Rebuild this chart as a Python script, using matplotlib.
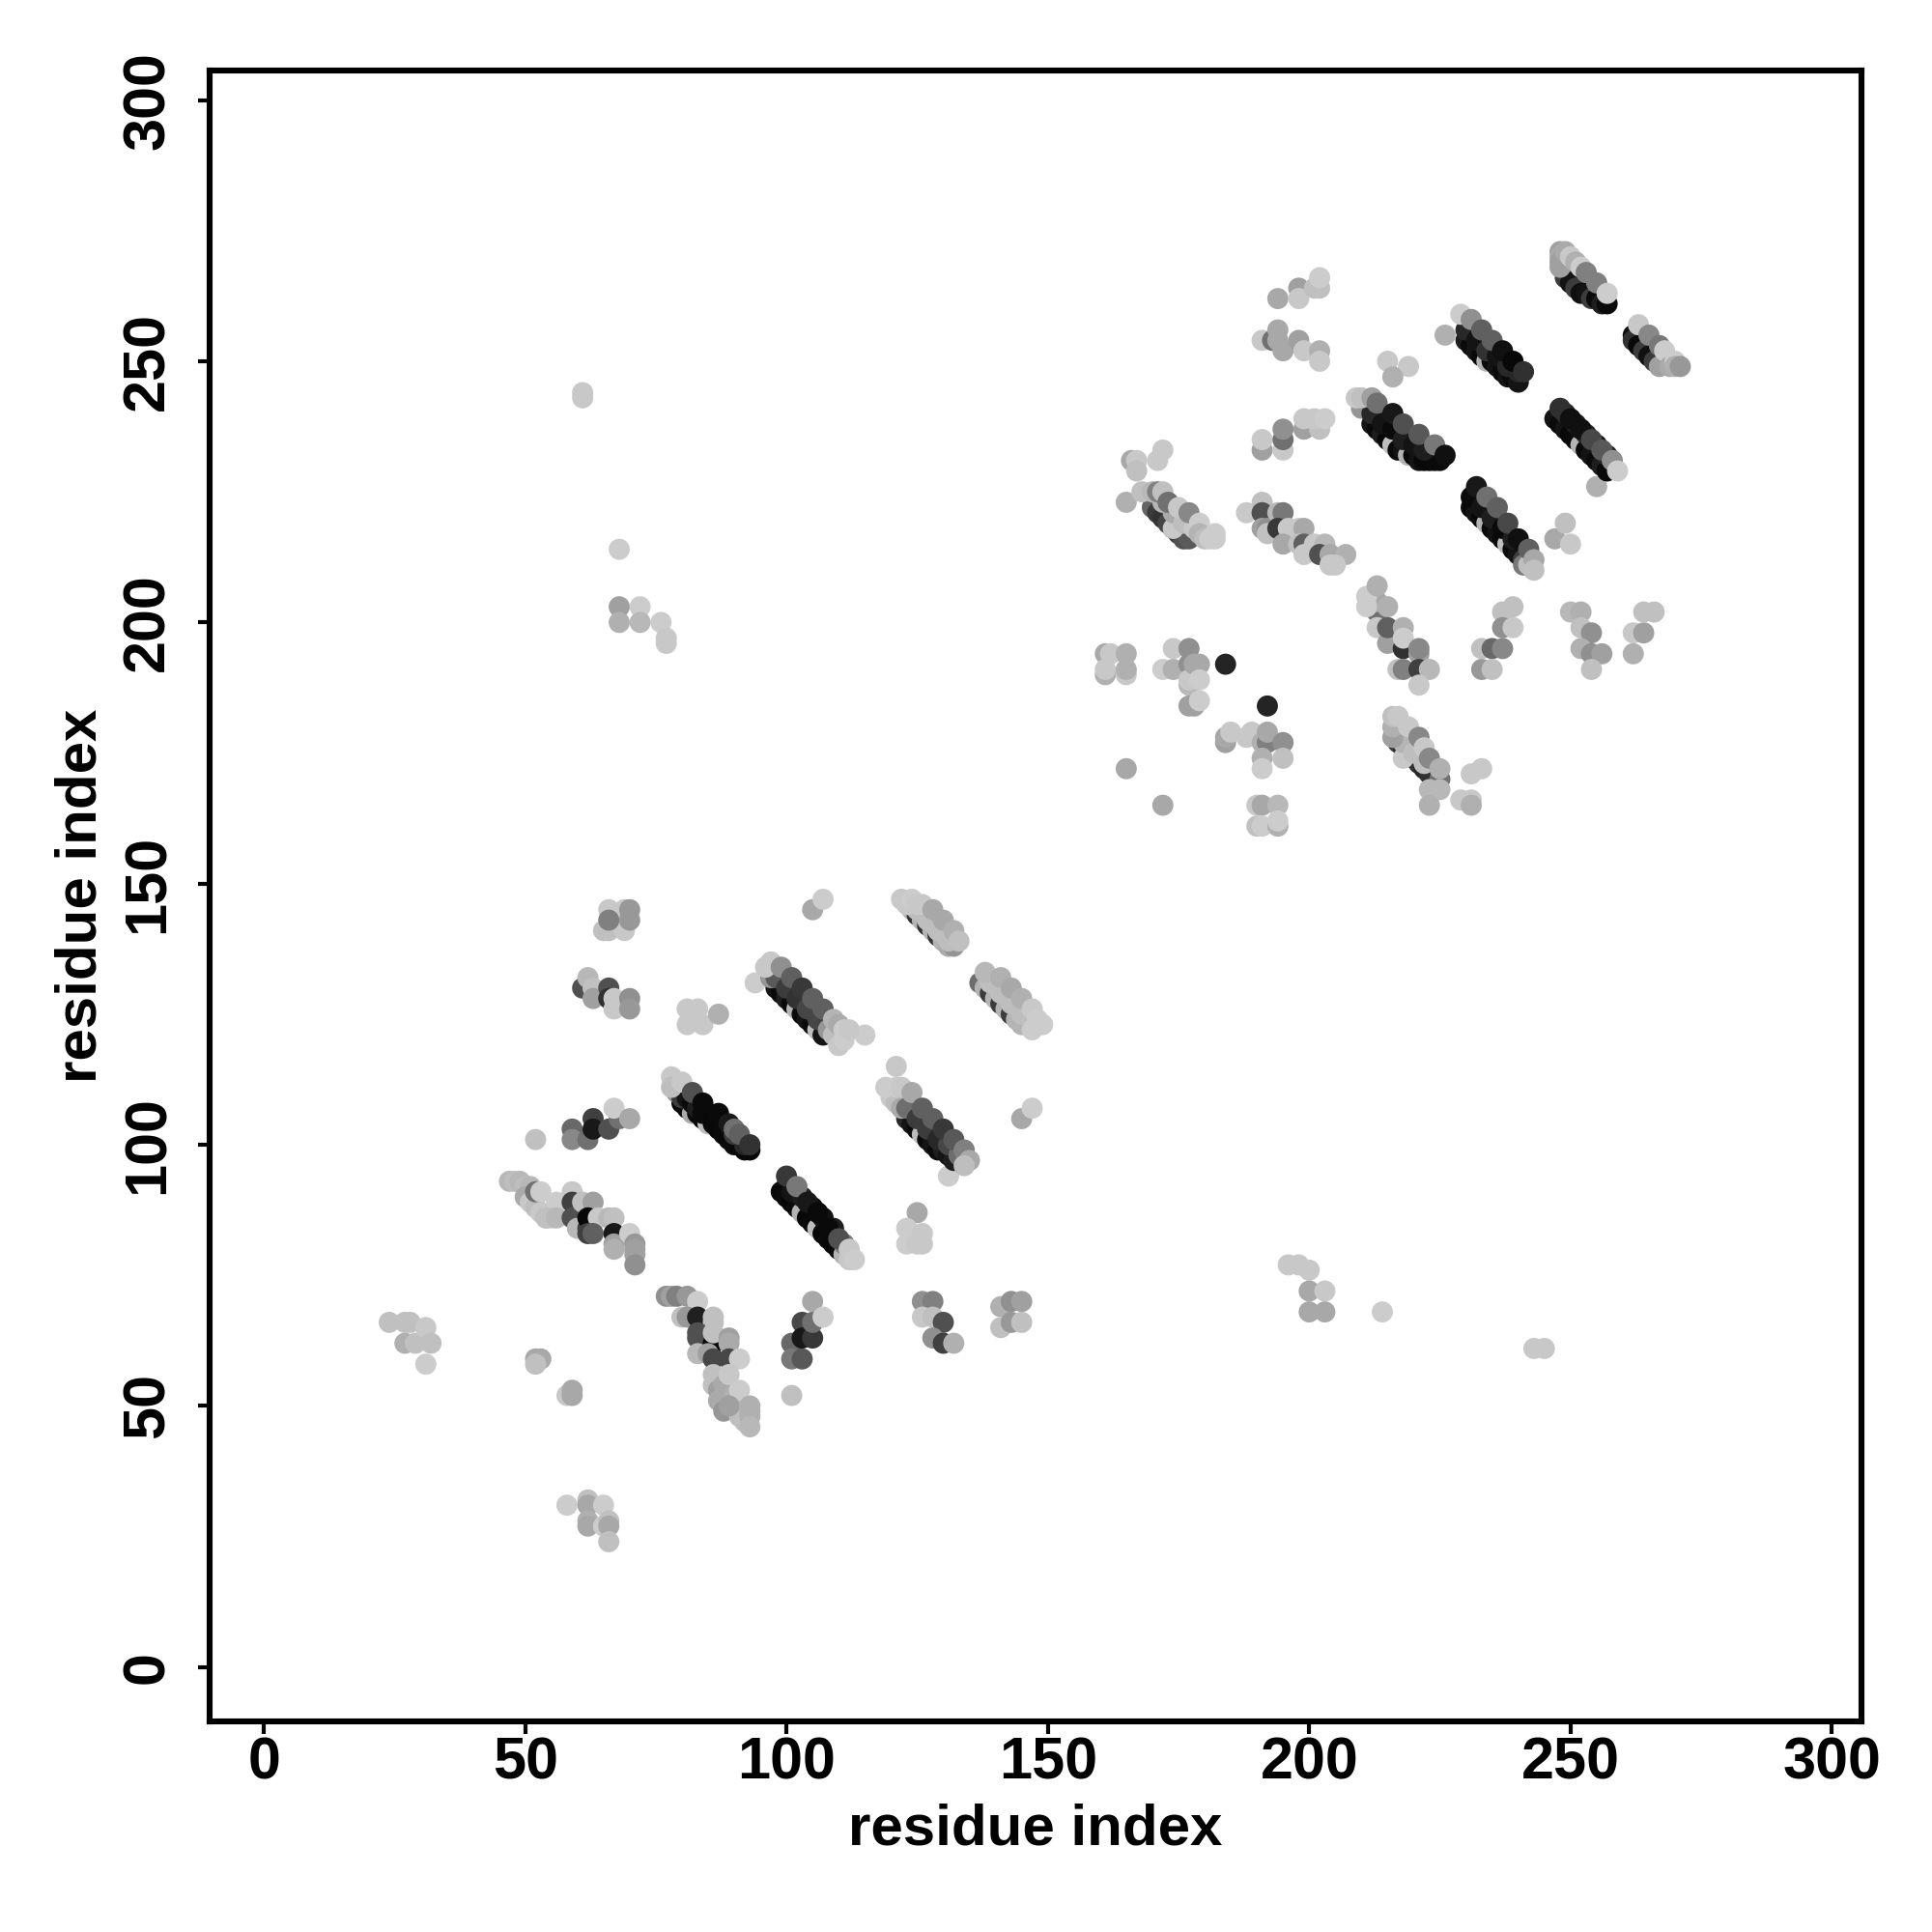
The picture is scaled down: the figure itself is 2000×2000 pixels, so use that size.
import matplotlib
matplotlib.use('Agg')
import matplotlib.pyplot as plt

plt.rcParams['font.family'] = ['Liberation Sans', 'DejaVu Sans']
plt.rcParams['font.weight'] = 'bold'

# every contact is (residue x, residue y, grey level 0-255), drawn in list order
strip_a = [(80,108,8),(81,107,10),(82,106,170),(83,106,10),(84,105,8),(85,104,190),(86,104,10),(87,103,8),(88,102,10),(89,101,8),(90,100,10),(91,100,8),(92,99,10),(93,99,8),
           (79,110,150),(80,109,60),(81,109,20),(82,108,10),(83,107,30),(84,106,10),(85,106,10),(86,105,8),(88,104,10),(90,102,60),(92,100,40),
           (78,113,200),(78,111,190),(80,112,200),(82,110,80),(84,108,10),(87,106,10),(89,104,26),(90,103,112),(91,102,96),(93,100,50)]
strip_b = [(99,91,8),(100,90,10),(101,89,8),(102,88,10),(103,87,180),(104,86,8),(105,85,10),(106,84,190),(107,83,8),(108,82,10),(109,81,8),(110,80,10),(111,79,180),
           (100,92,10),(101,91,20),(103,90,30),(105,88,10),(107,86,20),(109,84,30),(111,81,120),(112,78,200),
           (100,94,56),(102,92,120),(104,89,24),(106,87,10),(108,84,10),(110,82,80),(112,80,200),(113,78,204)]
strip_c = [(98,130,20),(99,129,10),(100,128,30),(101,127,10),(102,126,180),(103,125,10),(104,124,20),(105,123,10),(106,122,190),(107,121,20),
           (97,132,150),(98,132,90),(100,130,60),(102,128,50),(104,126,70),(106,124,70),(108,122,150),(109,121,190),(110,119,200),
           (96,134,200),(97,135,200),(99,134,144),(101,132,96),(103,130,56),(105,128,96),(107,126,96),(109,124,180),(110,123,170),(111,122,204),(111,120,204),(112,122,200)]
strip_d = [(123,105,40),(124,104,20),(125,103,10),(126,102,190),(127,101,10),(128,100,20),(129,99,10),(130,99,30),(131,98,20),(132,97,30),
           (120,109,200),(121,108,190),(122,107,170),(123,107,110),(125,105,60),(127,103,60),(129,101,40),(131,100,70),(133,98,110),
           (119,111,204),(121,111,204),(122,111,200),(124,110,168),(126,107,96),(128,105,96),(130,103,56),(132,101,88),(134,99,128),(135,97,168),(134,96,190)]
strip_e = [(124,145,180),(125,144,50),(126,143,180),(127,142,50),(128,141,180),(129,140,50),(130,139,180),(131,138,170),(132,138,150),
           (125,145,190),(127,143,190),(129,141,190),(131,139,190),
           (122,147,200),(123,146,200),(124,147,204),(125,146,200),(126,146,200),(128,145,168),(130,143,168),(132,141,176),(133,139,192)]
strip_f = [(137,131,110),(138,130,180),(139,129,60),(140,128,180),(141,127,60),(142,126,180),(143,125,60),(144,124,180),(145,123,180),
           (139,131,190),(141,129,190),(143,127,190),(145,125,190),
           (138,133,184),(141,132,176),(143,130,168),(145,128,176),(147,126,200),(148,124,204),(147,122,204),(149,123,204)]
strip_g = [(47,93,184),(48,93,190),(49,93,184),(50,92,190),(51,92,184),(50,90,170),(51,89,200),(52,88,190),(53,87,200),(54,86,190),(55,86,200),(52,91,112),(53,91,204),
           (56,89,204),(54,86,192),(56,86,184),(59,91,200),(59,89,64),(59,86,80),(60,86,80),(60,84,184),(61,89,192),(62,84,64),(63,89,160),(62,86,8),(64,86,200),
           (62,83,64),(63,83,96),(66,86,184),(67,86,192),(67,83,24),(67,81,160),(67,80,176),(70,83,204),(71,81,152),(71,80,160),(71,79,160),(71,77,144)]
strip_h = [(77,71,144),(78,71,160),(79,71,128),(81,71,152),(83,70,204),(80,67,192),(81,67,152),(83,67,32),(86,67,192),(86,66,192),
           (83,64,80),(83,63,80),(86,62,8),(86,64,192),(89,63,160),(89,62,170),(83,60,184),(85,60,160),(86,59,72),(89,59,72),(91,59,204),
           (86,56,192),(86,54,192),(87,53,160),(87,51,170),(88,49,150),(88,54,170),(89,53,170),(90,52,176),(90,50,170),(91,51,190),(92,49,180),(91,48,190),
           (89,56,200),(91,53,204),(89,50,160),(92,47,192),(93,50,176),(93,49,176),(93,48,176),(93,46,184)]
clump_left = [(24,66,192),(27,66,192),(28,66,192),(27,62,176),(29,62,192),(31,65,200),(32,62,192),(31,58,204),
              (52,59,168),(53,59,168),(52,58,192),(58,52,200),(59,53,168),(59,52,168),
              (58,31,204),(62,32,192),(62,31,168),(62,28,176),(62,27,168),(65,31,204),(65,27,204),(66,28,192),(66,27,168),(66,24,192),
              (61,244,200),(61,243,200),(68,214,204),(68,203,160),(72,203,204),(68,200,176),(72,200,184),(76,200,204),(77,197,200),(77,196,200)]
clump_mid = [(65,141,192),(66,141,192),(69,141,200),(66,145,200),(69,145,200),(66,143,128),(70,145,152),(70,143,152),
             (61,130,80),(62,132,184),(63,130,192),(63,128,160),(66,130,80),(66,128,48),(67,128,200),(67,126,200),(70,128,144),(70,126,152),
             (81,126,200),(83,126,200),(81,123,200),(84,123,200),(87,125,176),(94,131,204),
             (52,101,192),(59,103,104),(59,101,136),(62,101,112),(63,105,64),(63,103,24),(66,103,80),(68,105,112),(67,107,204),(70,105,168),
             (101,62,104),(101,59,120),(103,59,88),(103,66,72),(103,63,24),(105,63,56),(105,66,112),(105,70,168),(107,67,204),(101,52,192),
             (105,145,168),(107,147,204),(115,121,204),(121,115,200),(131,94,204),(145,105,168),(147,107,204)]
clump_low = [(125,87,168),(123,84,204),(126,83,200),(123,81,204),(125,81,200),(126,81,200),
             (126,70,144),(128,70,128),(126,67,200),(128,67,192),(130,66,80),(128,63,144),(130,62,64),(132,62,176),
             (141,69,176),(141,65,192),(143,70,144),(145,70,160),(143,66,152),(145,66,192),
             (196,77,200),(198,77,200),(200,76,200),(200,72,168),(203,72,200),(200,68,168),(203,68,168),(214,68,204),(243,61,200),(245,61,200)]
clump_top = [(194,262,168),(198,264,160),(198,262,200),(201,264,192),(202,264,192),(202,266,204),
             (191,254,200),(193,254,112),(194,256,168),(194,254,168),(195,252,168),(198,254,160),(199,252,200),(202,252,176),(202,250,200),
             (191,233,160),(191,235,200),(195,233,200),(195,235,112),(195,237,144),(199,237,160),(199,239,200),(202,237,192),(201,239,200),(203,239,204),
             (166,231,168),(167,231,200),(167,229,192),(171,231,200),(172,233,200),
             (215,250,200),(219,249,200),(216,247,176),(226,255,176),(247,216,168),(249,219,192),(250,215,200),(255,226,176)]
strip_i = [(170,222,100),(171,221,60),(172,220,50),(173,219,70),(174,218,50),(175,217,60),(176,216,80),(177,216,90),(174,218,200),
           (172,223,180),(174,221,170),(176,219,190),(178,218,200),
           (165,223,176),(168,225,192),(170,225,184),(171,225,128),(172,225,192),(173,223,112),(175,222,200),(177,221,136),(179,219,204),(179,217,180),(180,216,190),(181,216,204),(182,217,204),(182,216,204)]
clump_j = [(188,221,200),(191,223,192),(191,221,80),(191,218,160),(192,218,144),(192,217,192),(194,221,184),(195,221,120),(194,218,56),(196,218,200),
           (195,215,168),(198,218,200),(199,218,168),(198,215,192),(199,215,96),(199,213,200),(201,215,200),(203,215,184),(202,213,80),(204,213,168),(207,213,176),(204,211,200),(205,211,200)]
strip_k = [(212,238,20),(213,237,10),(214,236,30),(215,235,8),(216,234,190),(217,233,10),(218,233,20),(219,232,180),(220,232,10),(221,231,20),(222,231,10),(223,231,8),(224,231,10),(225,231,10),
           (210,241,150),(212,240,40),(214,238,20),(216,237,10),(218,235,30),(220,234,20),(222,233,30),
           (209,243,200),(210,243,192),(212,243,160),(213,242,112),(216,240,24),(218,238,80),(221,236,88),(224,234,120),(226,232,16)]
strip_l = [(230,254,30),(231,253,10),(232,252,20),(233,251,8),(234,250,180),(235,250,10),(236,249,20),(237,248,10),(238,247,20),(239,247,8),(240,246,20),
           (230,256,40),(232,254,20),(234,252,50),(236,251,20),(238,249,40),(240,248,40),
           (229,259,204),(231,258,144),(233,256,96),(235,254,96),(237,252,16),(239,250,8),(241,248,48)]
strip_m = [(231,222,10),(232,221,20),(233,220,8),(234,219,180),(235,218,10),(236,217,20),(237,216,10),(238,215,190),(239,214,10),(240,213,20),(241,212,60),
           (231,224,10),(233,222,20),(235,220,30),(237,218,10),(239,216,30),(241,211,120),(242,211,190),
           (232,226,24),(234,224,112),(236,222,96),(238,219,72),(240,216,16),(242,214,96),(243,212,168),(243,210,192)]
strip_n = [(247,239,20),(248,238,10),(249,237,20),(250,236,8),(251,235,10),(252,234,180),(253,233,10),(254,232,20),(255,231,10),(256,230,30),(257,229,10),
           (249,240,40),(251,238,30),(253,236,40),(255,234,20),(257,232,40),
           (248,241,48),(250,239,16),(252,237,16),(254,235,72),(256,233,88),(258,231,144),(259,229,204)]
strip_o = [(249,266,60),(250,265,20),(251,264,60),(252,263,16),(253,263,20),(254,262,60),(255,262,10),(256,261,30),(257,261,10),
           (248,271,160),(248,270,170),(248,269,160),(248,268,160),(249,271,170),(250,270,200),(251,269,176),(252,268,204),(253,267,128),(255,265,128),(257,263,204)]
strip_p = [(262,255,16),(262,254,50),(263,253,10),(264,252,60),(265,251,16),(266,250,60),(267,249,160),
           (263,257,200),(265,255,136),(267,253,120),(268,252,204),(269,249,170),(270,250,204),(270,249,176),(271,249,152)]
clump_q = [(161,194,168),(162,194,200),(165,194,176),(161,190,176),(161,191,200),(165,190,200),(165,191,176),
           (174,195,200),(177,195,144),(172,191,204),(174,191,176),(177,192,144),(177,188,184),(177,189,200),(178,192,168),(179,192,168),(179,189,204),
           (177,184,160),(178,184,160),(179,185,204),(184,192,36),(192,184,36),
           (184,177,160),(184,178,168),(185,179,200),(188,178,200),(189,179,200),(191,177,176),(192,177,128),(192,179,168),(195,177,144),(191,174,176),(195,174,192),(191,172,204),
           (165,172,168),(172,165,168),(190,165,200),(191,165,168),(194,165,184),(190,161,192),(191,161,204),(194,161,176),(194,162,204)]
strip_r = [(217,177,60),(218,176,50),(219,175,70),(220,174,40),(221,173,50),(222,172,40),(223,171,50),(218,174,200),
           (218,177,180),(220,175,190),(222,173,190),
           (216,178,160),(216,180,176),(216,182,192),(217,182,200),(219,180,200),(221,178,136),(222,176,200),(223,174,136),(225,170,112),(225,172,176),(225,168,184),(223,168,184),
           (223,165,176),(229,166,200),(231,166,200),(231,165,176),(231,171,200),(233,172,200)]
strip_s = [(213,202,112),(213,199,200),(215,196,160),(217,191,192),(213,204,168),(211,205,204),(211,203,204),(213,207,176),(215,203,176),(215,199,96),
           (218,199,176),(218,195,48),(218,197,204),(221,194,160),(221,195,136),(218,191,128),(221,191,64),(223,191,184),(221,188,200),
           (237,202,192),(239,203,192),(237,199,144),(239,199,200),(233,195,192),(235,195,104),(237,195,136),(233,191,152),(235,191,192),
           (250,202,184),(252,202,176),(252,199,192),(254,198,144),(252,195,176),(254,194,144),(256,194,160),(254,191,192),
           (262,194,176),(262,198,200),(264,198,160),(264,202,192),(266,202,192)]

all_groups = [clump_left, clump_mid, clump_low, strip_g, strip_h, strip_a, strip_b, strip_c, strip_d, strip_e, strip_f,
              clump_top, strip_i, clump_j, strip_k, strip_l, strip_m, strip_n, strip_o, strip_p, clump_q, strip_r, strip_s]
tick_vals = [0, 50, 100, 150, 200, 250, 300]

fig = plt.figure(figsize=(10, 10), dpi=200)
ax = fig.add_axes([0.1084, 0.109, 0.8552, 0.8546])

for group in all_groups:
    xs = [p[0] for p in group]
    ys = [p[1] for p in group]
    cols = [(p[2] / 255, p[2] / 255, p[2] / 255) for p in group]
    ax.scatter(xs, ys, c=cols, s=62, linewidths=0)

ax.set_xlim(-10.4, 305.7)
ax.set_ylim(-10.4, 305.7)
ax.set_xticks(tick_vals)
ax.set_yticks(tick_vals)
ax.tick_params(axis='both', length=4.5, width=1.5, labelsize=22)
ax.tick_params(axis='x', pad=1)
ax.tick_params(axis='y', pad=12.5)
plt.setp(ax.get_yticklabels(), rotation=90, ha='center', va='baseline', rotation_mode='anchor')
for s in ax.spines.values():
    s.set_linewidth(2.2)
ax.set_xlabel('residue index', fontsize=21.6, fontweight='bold', labelpad=4.5)
ax.set_ylabel('residue index', fontsize=21.6, fontweight='bold', labelpad=5)

plt.savefig('out.png', dpi=200)
